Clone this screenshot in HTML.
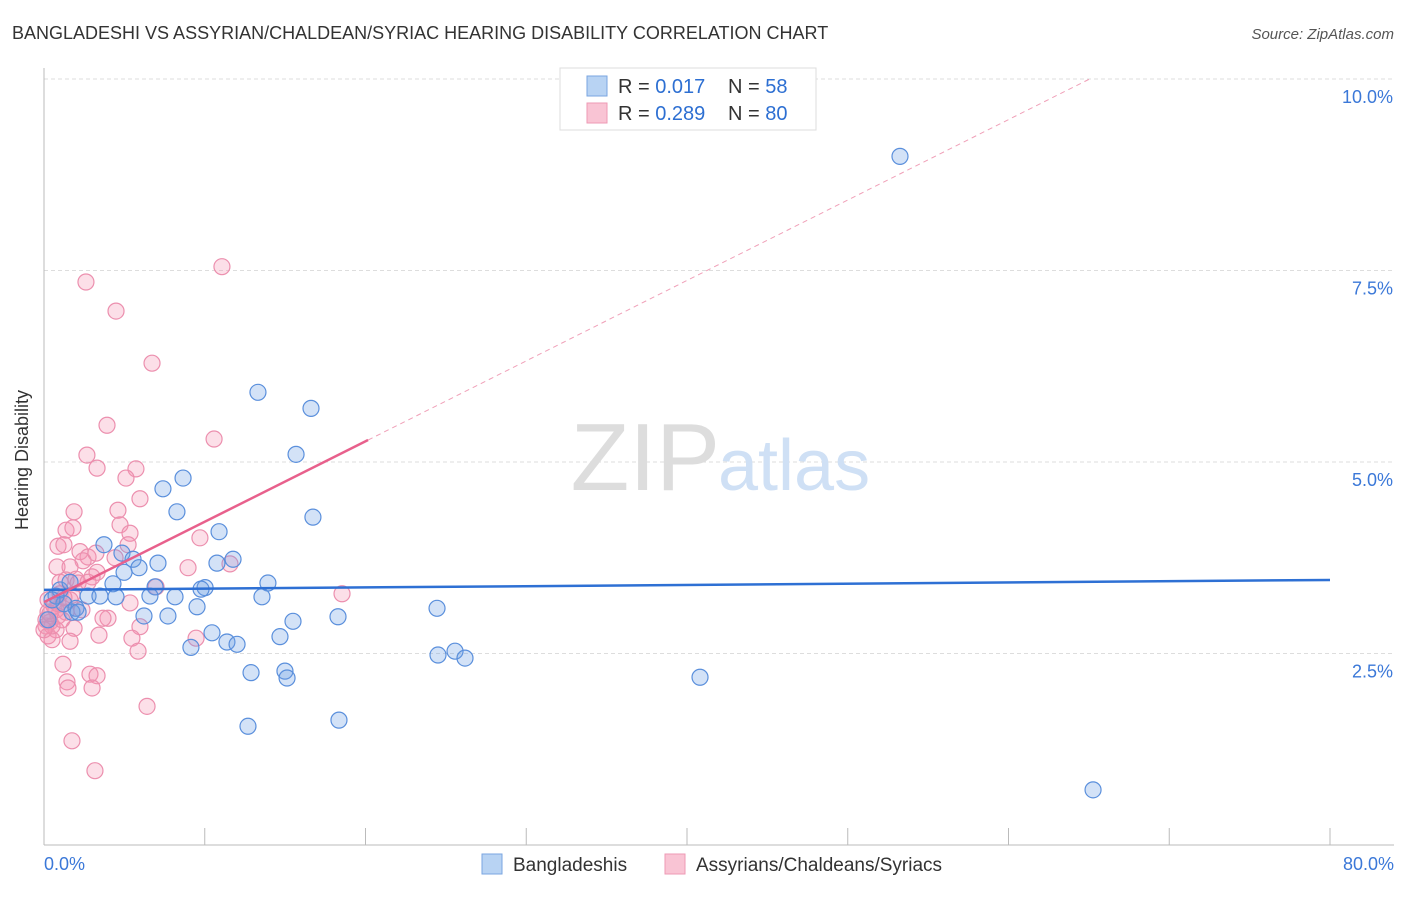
<!DOCTYPE html>
<html><head><meta charset="utf-8"><style>
body{margin:0;background:#fff;font-family:"Liberation Sans",sans-serif;}
svg text{font-family:"Liberation Sans",sans-serif;}
</style></head><body>
<svg width="1406" height="892" id="chart">
<text x="12" y="39" font-size="18" fill="#333">BANGLADESHI VS ASSYRIAN/CHALDEAN/SYRIAC HEARING DISABILITY CORRELATION CHART</text>
<text x="1394" y="39" font-size="15" fill="#555" font-style="italic" text-anchor="end">Source: ZipAtlas.com</text>
<text x="24" y="456" font-size="18" fill="#333" transform="rotate(-90 28 456)" text-anchor="middle">Hearing Disability</text>
<g id="grid"></g>
<g id="axes"></g>
<text x="720" y="490" font-size="96" fill="#ddd" text-anchor="end" font-family="Liberation Serif">ZIP</text>
<text x="718" y="490" font-size="72" fill="#cfe0f5">atlas</text>
<g id="pts"></g>
<g id="trends"></g>
<g>
<rect x="560" y="68" width="256" height="62" fill="#fff" stroke="#ddd"/>
<rect x="587" y="76" width="20" height="20" fill="#b8d3f3" stroke="#7aa6e0"/>
<rect x="587" y="103" width="20" height="20" fill="#f9c4d4" stroke="#ee9ab4"/>
<text x="618" y="93" font-size="20" fill="#333">R = <tspan fill="#2d6fd2">0.017</tspan><tspan x="728">N = </tspan><tspan fill="#2d6fd2">58</tspan></text>
<text x="618" y="120" font-size="20" fill="#333">R = <tspan fill="#2d6fd2">0.289</tspan><tspan x="728">N = </tspan><tspan fill="#2d6fd2">80</tspan></text>
</g>
<g>
<rect x="482" y="854" width="20" height="20" fill="#b8d3f3" stroke="#7aa6e0"/>
<text x="513" y="871" font-size="19" fill="#333">Bangladeshis</text>
<rect x="665" y="854" width="20" height="20" fill="#f9c4d4" stroke="#ee9ab4"/>
<text x="696" y="871" font-size="19" fill="#333">Assyrians/Chaldeans/Syriacs</text>
</g>
</svg>
<script>
const yTicks=[2.5,5,7.5,10];
const yTickLabels=["2.5%","5.0%","7.5%","10.0%"];
const xTickVals=[0,10,20,30,40,50,60,70,80];
const xEndLabels=["0.0%","80.0%"];
const blueX=[53.25,13.31,16.61,15.68,8.65,7.40,8.27,16.73,10.89,3.73,4.85,11.76,5.54,7.09,10.76,5.91,4.98,13.93,10.02,4.29,6.91,9.77,8.15,13.56,6.59,4.48,2.74,3.48,9.52,24.45,6.22,7.71,18.29,15.49,1.74,10.45,14.68,11.38,12.01,9.14,24.51,25.57,26.19,12.88,14.99,15.12,40.81,12.69,18.35,65.26,0.75,1.0,1.24,1.99,2.12,1.62,0.25,0.5];
const blueY=[8.99,5.91,5.70,5.10,4.79,4.65,4.35,4.28,4.09,3.92,3.81,3.73,3.73,3.68,3.68,3.62,3.56,3.42,3.36,3.41,3.37,3.34,3.24,3.24,3.25,3.24,3.25,3.25,3.11,3.09,2.99,2.99,2.98,2.92,3.04,2.77,2.72,2.65,2.62,2.58,2.48,2.53,2.44,2.25,2.27,2.18,2.19,1.55,1.63,0.72,3.25,3.33,3.15,3.09,3.04,3.43,2.94,3.2];
const pinkX=[11.07,2.61,4.48,6.72,3.92,10.58,2.67,3.30,5.72,5.10,5.97,1.87,4.60,1.37,1.80,4.73,5.35,0.87,1.24,9.70,5.23,2.24,2.74,4.42,3.23,2.43,0.81,1.62,3.30,11.57,8.96,1.37,1.99,2.12,1.0,2.99,6.97,18.54,1.0,1.74,0.25,0.62,0.25,0.87,0.37,0.12,1.37,1.62,2.36,0.75,0.25,5.35,3.98,3.67,5.97,1.87,0.5,3.42,5.47,9.46,1.62,5.85,1.18,2.86,3.30,1.43,1.49,2.99,6.41,1.74,3.17,0.12,0.5,0.75,1.12,0,0.37,0.87,1.24,2.74];
const pinkY=[7.55,7.35,6.97,6.29,5.48,5.30,5.09,4.92,4.91,4.79,4.52,4.35,4.37,4.11,4.14,4.18,4.07,3.90,3.92,4.01,3.92,3.83,3.76,3.75,3.81,3.71,3.63,3.63,3.56,3.67,3.62,3.46,3.47,3.42,3.43,3.50,3.37,3.28,3.28,3.26,3.20,3.12,3.04,2.99,2.91,2.86,3.04,3.20,3.07,2.81,2.73,3.16,2.96,2.96,2.85,2.83,2.68,2.74,2.70,2.70,2.66,2.53,2.36,2.23,2.21,2.13,2.05,2.05,1.81,1.36,0.97,2.94,2.86,3.07,2.94,2.81,3.02,3.15,3.23,3.43];
const blueTrend=[3.33,3.46];
const pinkTrend=[3.17,0.105];
const NS="http://www.w3.org/2000/svg";
const X=v=>44+v*16.075, Y=v=>845-v*76.6;
function mk(tag,attrs,parent){const e=document.createElementNS(NS,tag);for(const k in attrs)e.setAttribute(k,attrs[k]);parent.appendChild(e);return e;}
const grid=document.getElementById('grid'),axes=document.getElementById('axes'),pts=document.getElementById('pts'),tr=document.getElementById('trends');
yTicks.forEach((t,i)=>{
 const l=mk('line',{x1:44,x2:1394,y1:Y(t),y2:Y(t),stroke:'#ddd','stroke-dasharray':'4 3'},grid);
 
 
 const tx=mk('text',{x:1393,y:Y(t)+24,'font-size':18,fill:'#3b78d8','text-anchor':'end'},grid);
 tx.textContent=yTickLabels[i];
 
 
});
let a=mk('line',{x1:44,x2:44,y1:68,y2:845,stroke:'#bbb'},axes);


a=mk('line',{x1:44,x2:1394,y1:845,y2:845,stroke:'#bbb'},axes);


xTickVals.forEach(v=>{const t=mk('line',{x1:X(v),x2:X(v),y1:828,y2:845,stroke:'#bbb'},axes);
 
 });
let t0=mk('text',{x:44,y:870,'font-size':18,fill:'#3b78d8'},axes);t0.textContent=xEndLabels[0];


let t1=mk('text',{x:1394,y:870,'font-size':18,fill:'#3b78d8','text-anchor':'end'},axes);t1.textContent=xEndLabels[1];


pinkX.forEach((v,i)=>{const c=mk('circle',{cx:X(v),cy:Y(pinkY[i]),r:8,fill:'rgba(244,150,180,0.3)',stroke:'#ec8fae','stroke-width':1.2},pts);
 
 });
blueX.forEach((v,i)=>{const c=mk('circle',{cx:X(v),cy:Y(blueY[i]),r:8,fill:'rgba(110,160,230,0.3)',stroke:'#5a8fdc','stroke-width':1.2},pts);
 
 });
let l=mk('line',{x1:X(0),y1:Y(blueTrend[0]),x2:X(80),y2:Y(blueTrend[1]),stroke:'#2e70d4','stroke-width':2.5},tr);


const pEnd=20.16, pDash=(10-pinkTrend[0])/pinkTrend[1];
l=mk('line',{x1:X(0),y1:Y(pinkTrend[0]),x2:X(pEnd),y2:Y(pinkTrend[0]+pinkTrend[1]*pEnd),stroke:'#e8608c','stroke-width':2.5},tr);


l=mk('line',{x1:X(pEnd),y1:Y(pinkTrend[0]+pinkTrend[1]*pEnd),x2:X(pDash),y2:Y(10),stroke:'#f0a0b8','stroke-width':1,'stroke-dasharray':'5 4'},tr);


</script>
</body></html>
